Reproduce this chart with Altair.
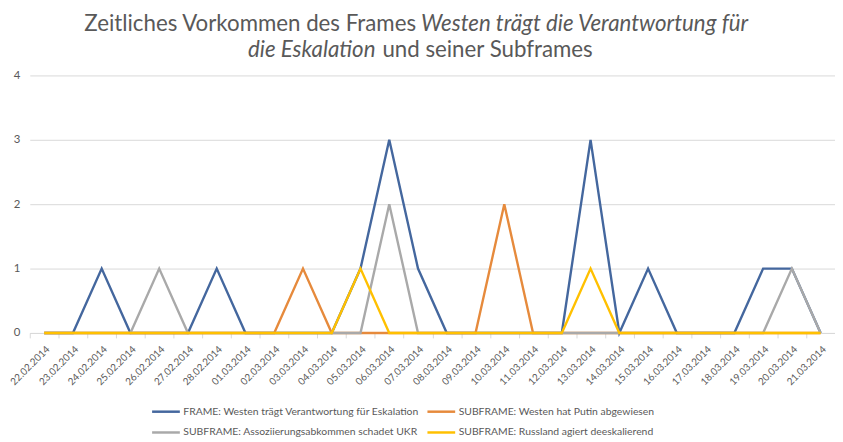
import altair as alt
import pandas as pd

dates = ["22.02.2014", "23.02.2014", "24.02.2014", "25.02.2014", "26.02.2014",
         "27.02.2014", "28.02.2014", "01.03.2014", "02.03.2014", "03.03.2014",
         "04.03.2014", "05.03.2014", "06.03.2014", "07.03.2014", "08.03.2014",
         "09.03.2014", "10.03.2014", "11.03.2014", "12.03.2014", "13.03.2014",
         "14.03.2014", "15.03.2014", "16.03.2014", "17.03.2014", "18.03.2014",
         "19.03.2014", "20.03.2014", "21.03.2014"]

frame_west = [0, 0, 1, 0, 0, 0, 1, 0, 0, 0, 0, 1, 3, 1, 0, 0, 0, 0, 0, 3, 0, 1, 0, 0, 0, 1, 1, 0]
sub_putin = [0, 0, 0, 0, 0, 0, 0, 0, 0, 1, 0, 0, 0, 0, 0, 0, 2, 0, 0, 0, 0, 0, 0, 0, 0, 0, 0, 0]
sub_assoz = [0, 0, 0, 0, 1, 0, 0, 0, 0, 0, 0, 0, 2, 0, 0, 0, 0, 0, 0, 0, 0, 0, 0, 0, 0, 0, 1, 0]
sub_russl = [0, 0, 0, 0, 0, 0, 0, 0, 0, 0, 0, 1, 0, 0, 0, 0, 0, 0, 0, 1, 0, 0, 0, 0, 0, 0, 0, 0]

series_names = [
    "FRAME: Westen trägt Verantwortung für Eskalation",
    "SUBFRAME: Westen hat Putin abgewiesen",
    "SUBFRAME: Assoziierungsabkommen schadet UKR",
    "SUBFRAME: Russland agiert deeskalierend",
]
series_colors = ["#44679e", "#e68a3c", "#a9a9a9", "#ffc000"]

title_1_normal = "Zeitliches Vorkommen des Frames"
title_1_italic = "Westen trägt die Verantwortung für"
title_2_italic = "die Eskalation"
title_2_normal = "und seiner Subframes"

rows = []
for idx, (name, vals) in enumerate(zip(series_names, [frame_west, sub_putin, sub_assoz, sub_russl])):
    for d, v in zip(dates, vals):
        rows.append({"Datum": d, "Serie": name, "Wert": v, "idx": idx})
df = pd.DataFrame(rows)

FONT = "Lato"
TXT = "#595959"
GRID = "#d9d9d9"

lines = alt.Chart(df).mark_line(strokeWidth=2.4, strokeJoin="miter").encode(
    x=alt.X(
        "Datum:N", sort=dates, bandPosition=0.5,
        scale=alt.Scale(type="band", paddingInner=0, paddingOuter=0),
        axis=alt.Axis(title=None, labelAngle=-45, tickBand="extent", labelFont=FONT,
                      labelFontSize=10, labelColor=TXT, domainColor=GRID, tickColor=GRID,
                      tickSize=5, labelPadding=6, grid=False),
    ),
    y=alt.Y(
        "Wert:Q", scale=alt.Scale(domain=[0, 4]),
        axis=alt.Axis(title=None, values=[0, 1, 2, 3, 4], domain=False, ticks=False,
                      gridColor=GRID, labelFont=FONT, labelFontSize=11.5,
                      labelColor=TXT, labelPadding=10),
    ),
    color=alt.Color(
        "Serie:N", sort=series_names,
        scale=alt.Scale(domain=series_names, range=series_colors),
        legend=alt.Legend(title=None, orient="none", legendX=122, legendY=324, columns=2,
                          direction="horizontal", labelLimit=400,
                          symbolType="stroke", symbolSize=784, symbolStrokeWidth=2.5,
                          labelFont=FONT, labelFontSize=10.5, labelColor=TXT, labelOffset=2,
                          rowPadding=-6, columnPadding=2),
    ),
    order=alt.Order("idx:Q"),
)

one = pd.DataFrame({"k": [0]})
title_font_size = 22.5
t1a = alt.Chart(one).mark_text(align="right", baseline="alphabetic", font=FONT,
                                fontSize=title_font_size, color=TXT).encode(
    x=alt.value(390), y=alt.value(-45), text=alt.value(title_1_normal))
t1b = alt.Chart(one).mark_text(align="left", baseline="alphabetic", font=FONT,
                                fontSize=title_font_size, fontStyle="italic", color=TXT).encode(
    x=alt.value(395), y=alt.value(-45), text=alt.value(title_1_italic))
t2a = alt.Chart(one).mark_text(align="right", baseline="alphabetic", font=FONT,
                                fontSize=title_font_size, fontStyle="italic", color=TXT).encode(
    x=alt.value(349), y=alt.value(-19), text=alt.value(title_2_italic))
t2b = alt.Chart(one).mark_text(align="left", baseline="alphabetic", font=FONT,
                                fontSize=title_font_size, color=TXT).encode(
    x=alt.value(356), y=alt.value(-19), text=alt.value(title_2_normal))

chart = alt.layer(lines, t1a, t1b, t2a, t2b).properties(
    width=813, height=260,
    padding={"left": 22, "top": 66, "right": 0, "bottom": 106},
    autosize=alt.AutoSizeParams(type="none"),
).configure_view(stroke=None)

chart.save("out.html", embed_options={"renderer": "svg", "actions": False})
